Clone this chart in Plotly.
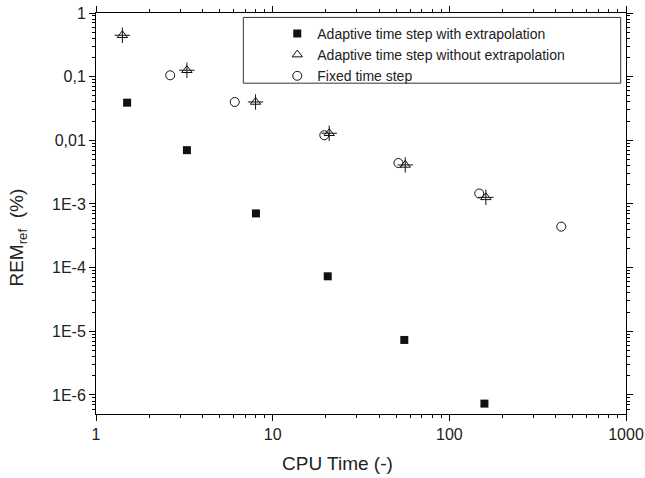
import plotly.graph_objects as go

# CPU time (-) and REM_ref (%)
x_extrap = [1.5, 3.27, 8.04, 20.5, 55.6, 158]
y_extrap = [0.039, 0.007, 7.1e-4, 7.3e-5, 7.3e-6, 7.3e-7]

x_noextrap = [1.41, 3.27, 8.0, 20.9, 56.3, 161]
y_noextrap = [0.447, 0.126, 0.040, 0.0129, 0.0041, 0.00127]

x_fixed = [2.63, 6.1, 19.6, 51.5, 147.6, 430]
y_fixed = [0.105, 0.040, 0.012, 0.0044, 0.00146, 4.4e-4]

ytick_vals = [1, 0.1, 0.01, 1e-3, 1e-4, 1e-5, 1e-6]
ytick_text = ["1", "0,1", "0,01", "1E-3", "1E-4", "1E-5", "1E-6"]
xtick_vals = [1, 10, 100, 1000]
xtick_text = ["1", "10", "100", "1000"]

FONT = "Liberation Sans, Arial, sans-serif"
INK = "#111111"

fig = go.Figure()
fig.add_trace(go.Scatter(
    x=x_extrap, y=y_extrap, mode="markers",
    name="Adaptive time step with extrapolation",
    marker=dict(symbol="square", size=8, color=INK)))
fig.add_trace(go.Scatter(
    x=x_noextrap, y=y_noextrap, mode="markers",
    name="Adaptive time step without extrapolation",
    marker=dict(symbol="triangle-up-open", size=9, color=INK,
                line=dict(width=1, color=INK))))
# the cross drawn through the triangle symbol
fig.add_trace(go.Scatter(
    x=x_noextrap, y=y_noextrap, mode="markers", showlegend=False,
    hoverinfo="skip",
    marker=dict(symbol="cross-thin-open", size=11, color=INK,
                line=dict(width=1, color=INK))))
fig.add_trace(go.Scatter(
    x=x_fixed, y=y_fixed, mode="markers", name="Fixed time step",
    marker=dict(symbol="circle-open", size=9, color=INK,
                line=dict(width=1, color=INK))))

axis_common = dict(
    type="log", showgrid=False, zeroline=False, automargin=False,
    showline=True, linecolor="black", linewidth=1,
    mirror="allticks", ticks="outside", ticklen=6, tickcolor="black",
    tickfont=dict(size=16, color="#222222", family=FONT),
    minor=dict(ticks="outside", ticklen=3, dtick="D1", tickcolor="black"),
)

fig.update_xaxes(**axis_common, range=[0, 3], tickmode="array",
                 tickvals=xtick_vals, ticktext=xtick_text)
fig.update_yaxes(**axis_common, range=[-6.3, 0], tickmode="array",
                 tickvals=ytick_vals, ticktext=ytick_text)

# axis titles (placed like the original, a bit off the axis centre)
fig.add_annotation(text="CPU Time (-)", xref="paper", yref="paper",
                   x=0.455, y=0, yshift=-49, showarrow=False,
                   xanchor="center", yanchor="middle",
                   font=dict(size=19, color="#222222", family=FONT))
fig.add_annotation(text="REM<sub>ref</sub>  (%)", xref="paper", yref="paper",
                   x=0, xshift=-78, y=0.44, textangle=-90, showarrow=False,
                   xanchor="center", yanchor="middle",
                   font=dict(size=19, color="#222222", family=FONT))

# legend frame
fig.add_shape(type="rect", xref="paper", yref="paper",
              x0=0.278, x1=0.99, y0=0.825, y1=0.989,
              line=dict(color="#333333", width=1), fillcolor="rgba(0,0,0,0)")

fig.update_layout(
    width=645, height=478,
    margin=dict(l=96, r=19, t=13, b=64),
    paper_bgcolor="white", plot_bgcolor="white",
    font=dict(family=FONT, color="#222222"),
    showlegend=True,
    legend=dict(x=0.342, y=0.988, xanchor="left", yanchor="top",
                bgcolor="rgba(0,0,0,0)", borderwidth=0,
                font=dict(size=14, color="#222222", family=FONT),
                tracegroupgap=0, itemwidth=30),
)

# drop the browser's default 8px body margin so the figure sits at (0, 0)
fig.write_html("out.html", config={"displayModeBar": False},
               post_script="document.body.style.margin='0';")
